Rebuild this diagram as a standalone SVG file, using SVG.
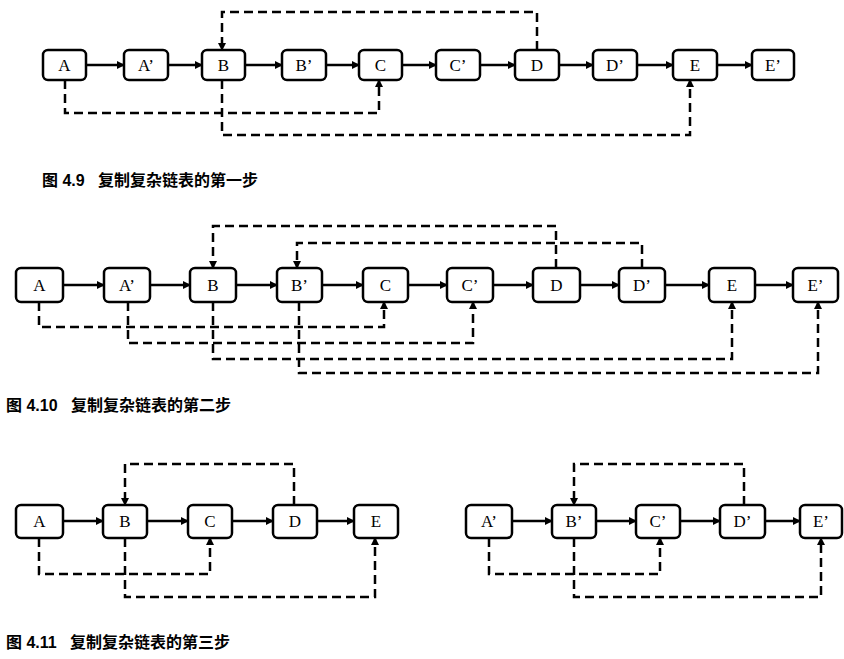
<svg xmlns="http://www.w3.org/2000/svg" width="844" height="659" viewBox="0 0 844 659">
<defs>
<marker id="ah" markerWidth="8" markerHeight="8" refX="7" refY="4" orient="auto" markerUnits="userSpaceOnUse"><path d="M0,0 L8,4 L0,8 z" fill="#000"/></marker>
<style>
.n rect{fill:#fff;stroke:#000;stroke-width:2.5}
.n text{font-family:"Liberation Serif",serif;font-size:17px;text-anchor:middle;dominant-baseline:central}
.s{stroke:#000;stroke-width:2.5;fill:none;marker-end:url(#ah)}
.da{stroke:#000;stroke-width:2.5;fill:none;stroke-dasharray:9 5;marker-end:url(#ah)}
.cap{font-family:"Liberation Sans","Noto Sans CJK SC",sans-serif;font-size:16px;font-weight:bold;white-space:pre}
</style>
</defs>
<rect width="844" height="659" fill="#fff"/>
<g id="connectors">
<path class="s" d="M86,65H124"/><path class="s" d="M168,65H202"/><path class="s" d="M245,65H282"/><path class="s" d="M326,65H359"/><path class="s" d="M402,65H436"/><path class="s" d="M480,65H515"/><path class="s" d="M559,65H593"/><path class="s" d="M637,65H673"/><path class="s" d="M717,65H752"/>
<path class="da" d="M537,50V12H222V50"/>
<path class="da" d="M65,80V113H379V80"/>
<path class="da" d="M222,80V135H690V80"/>
<path class="s" d="M63,285H104"/><path class="s" d="M150,285H190"/><path class="s" d="M236,285H277"/><path class="s" d="M322,285H363"/><path class="s" d="M408,285H447"/><path class="s" d="M493,285H533"/><path class="s" d="M580,285H619"/><path class="s" d="M665,285H709"/><path class="s" d="M755,285H793"/>
<path class="da" d="M556,268V226H213V268"/>
<path class="da" d="M642,268V243H297V268"/>
<path class="da" d="M39,302V327H384V302"/>
<path class="da" d="M128,302V343H473V302"/>
<path class="da" d="M213,302V359H732V302"/>
<path class="da" d="M299,302V373H818V302"/>
<path class="s" d="M63,521H103"/><path class="s" d="M147,521H188"/><path class="s" d="M232,521H273"/><path class="s" d="M317,521H354"/>
<path class="da" d="M294,505V464H125V505"/>
<path class="da" d="M39,538V574H210V538"/>
<path class="da" d="M125,538V597H375V538"/>
<path class="s" d="M512,521H552"/><path class="s" d="M596,521H636"/><path class="s" d="M680,521H720"/><path class="s" d="M765,521H800"/>
<path class="da" d="M744,505V464H574V505"/>
<path class="da" d="M489,538V574H660V538"/>
<path class="da" d="M574,538V597H821V538"/>
</g>
<g id="row1">
<g id="r1A" class="n"><rect x="43" y="50" width="43" height="30" rx="5"/><text x="64.5" y="65">A</text></g>
<g id="r1A2" class="n"><rect x="124" y="50" width="44" height="30" rx="5"/><text x="146" y="65">A’</text></g>
<g id="r1B" class="n"><rect x="202" y="50" width="43" height="30" rx="5"/><text x="223.5" y="65">B</text></g>
<g id="r1B2" class="n"><rect x="282" y="50" width="44" height="30" rx="5"/><text x="304" y="65">B’</text></g>
<g id="r1C" class="n"><rect x="359" y="50" width="43" height="30" rx="5"/><text x="380.5" y="65">C</text></g>
<g id="r1C2" class="n"><rect x="436" y="50" width="44" height="30" rx="5"/><text x="458" y="65">C’</text></g>
<g id="r1D" class="n"><rect x="515" y="50" width="44" height="30" rx="5"/><text x="537" y="65">D</text></g>
<g id="r1D2" class="n"><rect x="593" y="50" width="44" height="30" rx="5"/><text x="615" y="65">D’</text></g>
<g id="r1E" class="n"><rect x="673" y="50" width="44" height="30" rx="5"/><text x="695" y="65">E</text></g>
<g id="r1E2" class="n"><rect x="752" y="50" width="42" height="30" rx="5"/><text x="773" y="65">E’</text></g>
</g>
<g id="row2">
<g id="r2A" class="n"><rect x="16" y="268" width="47" height="34" rx="5"/><text x="39.5" y="285">A</text></g>
<g id="r2A2" class="n"><rect x="104" y="268" width="46" height="34" rx="5"/><text x="127" y="285">A’</text></g>
<g id="r2B" class="n"><rect x="190" y="268" width="46" height="34" rx="5"/><text x="213" y="285">B</text></g>
<g id="r2B2" class="n"><rect x="277" y="268" width="45" height="34" rx="5"/><text x="299.5" y="285">B’</text></g>
<g id="r2C" class="n"><rect x="363" y="268" width="45" height="34" rx="5"/><text x="385.5" y="285">C</text></g>
<g id="r2C2" class="n"><rect x="447" y="268" width="46" height="34" rx="5"/><text x="470" y="285">C’</text></g>
<g id="r2D" class="n"><rect x="533" y="268" width="47" height="34" rx="5"/><text x="556.5" y="285">D</text></g>
<g id="r2D2" class="n"><rect x="619" y="268" width="46" height="34" rx="5"/><text x="642" y="285">D’</text></g>
<g id="r2E" class="n"><rect x="709" y="268" width="46" height="34" rx="5"/><text x="732" y="285">E</text></g>
<g id="r2E2" class="n"><rect x="793" y="268" width="45" height="34" rx="5"/><text x="815.5" y="285">E’</text></g>
</g>
<g id="row3">
<g id="r3A" class="n"><rect x="16" y="505" width="47" height="33" rx="5"/><text x="39.5" y="521.5">A</text></g>
<g id="r3B" class="n"><rect x="103" y="505" width="44" height="33" rx="5"/><text x="125" y="521.5">B</text></g>
<g id="r3C" class="n"><rect x="188" y="505" width="44" height="33" rx="5"/><text x="210" y="521.5">C</text></g>
<g id="r3D" class="n"><rect x="273" y="505" width="44" height="33" rx="5"/><text x="295" y="521.5">D</text></g>
<g id="r3E" class="n"><rect x="354" y="505" width="44" height="33" rx="5"/><text x="376" y="521.5">E</text></g>
<g id="r3A2" class="n"><rect x="466" y="505" width="46" height="33" rx="5"/><text x="489" y="521.5">A’</text></g>
<g id="r3B2" class="n"><rect x="552" y="505" width="44" height="33" rx="5"/><text x="574" y="521.5">B’</text></g>
<g id="r3C2" class="n"><rect x="636" y="505" width="44" height="33" rx="5"/><text x="658" y="521.5">C’</text></g>
<g id="r3D2" class="n"><rect x="720" y="505" width="45" height="33" rx="5"/><text x="742.5" y="521.5">D’</text></g>
<g id="r3E2" class="n"><rect x="800" y="505" width="42" height="33" rx="5"/><text x="821" y="521.5">E’</text></g>
</g>
<text class="cap" x="42" y="186" xml:space="preserve">图 4.9   复制复杂链表的第一步</text>
<text class="cap" x="6" y="411" xml:space="preserve">图 4.10   复制复杂链表的第二步</text>
<text class="cap" x="6" y="648" xml:space="preserve">图 4.11   复制复杂链表的第三步</text>
</svg>
